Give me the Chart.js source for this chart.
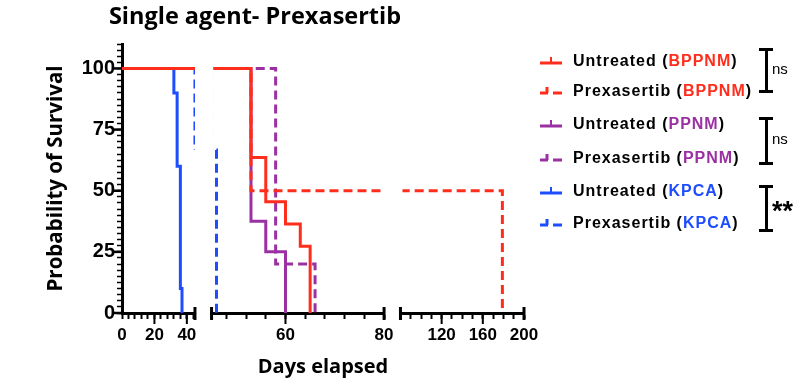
<!DOCTYPE html>
<html>
<head>
<meta charset="utf-8">
<title>Single agent- Prexasertib</title>
<script src="https://cdn.jsdelivr.net/npm/chart.js@4.4.1/dist/chart.umd.min.js"></script>
<style>
  html, body { margin: 0; padding: 0; background: #fff; }
  #wrap { position: relative; width: 796px; height: 381px; overflow: hidden; }
  #survival { position: absolute; left: 0; top: 0; }
  .title {
    position: absolute; left: 0; top: 0; width: 510px; text-align: center;
    font: 700 23.5px/30px 'Open Sans', sans-serif; color: #000; white-space: nowrap;
  }
  .legend-row {
    position: absolute; left: 540px; height: 20px; display: flex; align-items: center;
    font: 700 16px/20px 'Liberation Sans', Arial, sans-serif; letter-spacing: 1px;
    color: #000; white-space: nowrap;
  }
  .legend-row svg { margin-right: 11px; flex: none; }
  .bracket {
    position: absolute; left: 759px; width: 14px; box-sizing: border-box;
    border-top: 3px solid #000; border-bottom: 3px solid #000;
  }
  .bracket::before {
    content: ''; position: absolute; left: 5.5px; top: 0; bottom: 0; width: 3px; background: #000;
  }
  .stat { position: absolute; left: 772px; color: #000; font-family: 'Liberation Sans', Arial, sans-serif; }
  .stat.ns { font-size: 15px; line-height: 20px; }
  .stat.sig { font-size: 27px; font-weight: 700; line-height: 30px; }
</style>
</head>
<body>
<div id="wrap">
  <canvas id="survival" width="796" height="381"></canvas>
  <div class="title">Single agent- Prexasertib</div>
  <div id="legend"></div>
</div>
<script>
// Kaplan-Meier curves: day of each step and survival (%) after it
const untreatedBppnmDays = [0, 53, 56, 60, 63, 65];
const untreatedBppnmSurvival = [100, 63.6, 45.5, 36.4, 27.3, 0];
const prexBppnmDays = [0, 53, 179];
const prexBppnmSurvival = [100, 50, 0];
const untreatedPpnmDays = [0, 53, 56, 60];
const untreatedPpnmSurvival = [100, 37.5, 25, 0];
const prexPpnmDays = [0, 58, 66];
const prexPpnmSurvival = [100, 20, 0];
const untreatedKpcaDays = [0, 32, 34, 36, 37];
const untreatedKpcaSurvival = [100, 90, 60, 10, 0];
const prexKpcaDays = [0, 45, 46];
const prexKpcaSurvival = [100, 66.7, 0];

// broken x axis: three day ranges, tick step and labelled ticks for each
const dayRanges = [[0, 45], [45, 80], [80, 200]];
const daySteps = [4, 4, 10];
const dayLabels = [[0, 20, 40], [60, 80], [120, 160, 200]];
const survivalLabels = [0, 25, 50, 75, 100];

// comparison results shown next to the legend pairs
const comparisons = ['ns', 'ns', '**'];

const RED = '#ff2d1b';
const PURPLE = '#9b30a3';
const BLUE = '#1e4cff';

const series = [
  { treatment: 'Untreated', model: 'BPPNM', color: RED, dashed: false, days: untreatedBppnmDays, survival: untreatedBppnmSurvival },
  { treatment: 'Prexasertib', model: 'BPPNM', color: RED, dashed: true, days: prexBppnmDays, survival: prexBppnmSurvival },
  { treatment: 'Untreated', model: 'PPNM', color: PURPLE, dashed: false, days: untreatedPpnmDays, survival: untreatedPpnmSurvival },
  { treatment: 'Prexasertib', model: 'PPNM', color: PURPLE, dashed: true, days: prexPpnmDays, survival: prexPpnmSurvival },
  { treatment: 'Untreated', model: 'KPCA', color: BLUE, dashed: false, days: untreatedKpcaDays, survival: untreatedKpcaSurvival },
  { treatment: 'Prexasertib', model: 'KPCA', color: BLUE, dashed: true, days: prexKpcaDays, survival: prexKpcaSurvival }
];

const SEGMENT_IDS = ['days1', 'days2', 'days3'];
// pixel share of each piece of the bottom axis stack (segment, gap, segment, gap, segment)
const STACK_WEIGHTS = { days1: 73, gap1: 16.6, days2: 172.6, gap2: 16.4, days3: 123.6 };

Chart.defaults.font.family = "'Liberation Sans', Arial, sans-serif";
Chart.defaults.color = '#000';

// every curve is drawn once per axis segment
const datasets = [];
series.forEach(s => {
  const points = s.days.map((d, i) => ({ x: d, y: s.survival[i] }));
  SEGMENT_IDS.forEach(id => {
    datasets.push({
      label: `${s.treatment} (${s.model})`,
      data: points,
      xAxisID: id,
      yAxisID: 'y',
      stepped: true,
      borderColor: s.color,
      borderWidth: 3,
      borderDash: s.dashed ? [9, 5] : [],
      borderCapStyle: 'butt',
      pointRadius: 0,
      fill: false
    });
  });
});

function noPadding (scale) {
  scale.paddingLeft = 0;
  scale.paddingRight = 0;
  scale.paddingTop = 0;
  scale.paddingBottom = 0;
}

function segmentScale (i) {
  const [min, max] = dayRanges[i];
  return {
    type: 'linear',
    axis: 'x',
    position: 'bottom',
    stack: 'days',
    stackWeight: STACK_WEIGHTS[SEGMENT_IDS[i]],
    min,
    max,
    border: { display: true, color: '#000', width: 3 },
    grid: { display: true, drawOnChartArea: false, drawTicks: true, tickLength: 6, tickWidth: 2, tickColor: '#000' },
    ticks: {
      stepSize: daySteps[i],
      includeBounds: false,
      autoSkip: false,
      maxRotation: 0,
      padding: 6,
      font: { size: 17, weight: 'bold' },
      callback: v => dayLabels[i].includes(v) ? String(v) : ''
    },
    afterFit (scale) {
      scale.height = 40;
      noPadding(scale);
    }
  };
}

function gapScale (weight) {
  return {
    type: 'linear',
    axis: 'x',
    position: 'bottom',
    stack: 'days',
    stackWeight: weight,
    min: 0,
    max: 1,
    border: { display: false },
    grid: { display: false },
    ticks: { display: false },
    afterFit (scale) {
      scale.height = 40;
      noPadding(scale);
    }
  };
}

function strokeLine (ctx, x1, y1, x2, y2) {
  ctx.beginPath();
  ctx.moveTo(x1, y1);
  ctx.lineTo(x2, y2);
  ctx.stroke();
}

// keep each copy of a curve inside its own axis segment
const segmentClip = {
  id: 'segmentClip',
  beforeDatasetDraw (chart, args) {
    const xs = args.meta.xScale;
    const { top, bottom } = chart.chartArea;
    const inner = xs.id === 'days1' ? 0 : 2;
    chart.ctx.save();
    chart.ctx.beginPath();
    chart.ctx.rect(xs.left + inner, top - 10, xs.width - inner + 3, bottom - top + 20);
    chart.ctx.clip();
  },
  afterDatasetDraw (chart) {
    chart.ctx.restore();
  }
};

// segment end caps, long ticks under labels and the shared x title
const axisMarks = {
  id: 'axisMarks',
  afterDraw (chart) {
    const { ctx, chartArea, scales } = chart;
    const base = chartArea.bottom;
    ctx.save();
    ctx.strokeStyle = '#000';
    ctx.lineCap = 'butt';

    SEGMENT_IDS.forEach((id, i) => {
      const s = scales[id];
      ctx.lineWidth = 3;
      const ends = i === 0 ? [s.right] : [s.left, s.right];
      ends.forEach(x => strokeLine(ctx, x, base - 6, x, base + 7));

      ctx.lineWidth = 2;
      dayLabels[i].forEach(v => {
        if (v <= s.min || v >= s.max) return;
        const x = s.getPixelForValue(v);
        strokeLine(ctx, x, base, x, base + 11);
      });
    });

    const y = scales.y;
    ctx.lineWidth = 2.5;
    survivalLabels.forEach(v => {
      const py = y.getPixelForValue(v);
      strokeLine(ctx, y.right - 8, py, y.right, py);
    });

    ctx.fillStyle = '#000';
    ctx.font = "bold 20px 'Open Sans'";
    ctx.textAlign = 'center';
    ctx.textBaseline = 'alphabetic';
    ctx.fillText('Days elapsed', (chartArea.left + chartArea.right) / 2, 373);
    ctx.restore();
  }
};

const scales = {
  y: {
    type: 'linear',
    position: 'left',
    min: 0,
    max: 110,
    border: { display: true, color: '#000', width: 3 },
    grid: { display: true, drawOnChartArea: false, drawTicks: true, tickLength: 5, tickWidth: 1.5, tickColor: '#000' },
    ticks: {
      stepSize: 2.5,
      autoSkip: false,
      padding: 2,
      font: { size: 20, weight: 'bold' },
      callback: v => survivalLabels.includes(v) ? String(v) : ''
    },
    title: {
      display: true,
      text: 'Probability of Survival',
      color: '#000',
      font: { family: "'Open Sans'", size: 20.5, weight: 'bold' },
      padding: { top: 44, bottom: 0 }
    },
    afterFit (scale) {
      scale.width = 122;
      noPadding(scale);
    }
  },
  days1: segmentScale(0),
  gap1: gapScale(STACK_WEIGHTS.gap1),
  days2: segmentScale(1),
  gap2: gapScale(STACK_WEIGHTS.gap2),
  days3: segmentScale(2)
};

new Chart(document.getElementById('survival'), {
  type: 'line',
  data: { datasets },
  options: {
    responsive: false,
    animation: false,
    layout: { padding: { left: 0, top: 44, right: 272, bottom: 28 } },
    plugins: {
      legend: { display: false },
      tooltip: { enabled: false }
    },
    scales
  },
  plugins: [segmentClip, axisMarks]
});

// legend with coloured model names and comparison brackets
const legend = document.getElementById('legend');
const rowCentres = [60.5, 90.5, 124, 157.5, 191, 223];

function markerSvg (color, dashed) {
  const path = dashed
    ? `<path d="M0 9H8M7 3V9M13 9H22" stroke="${color}" stroke-width="3" fill="none"/>`
    : `<path d="M0 9H22" stroke="${color}" stroke-width="3" fill="none"/><path d="M11 3V9" stroke="${color}" stroke-width="2"/>`;
  return `<svg width="22" height="14" viewBox="0 0 22 14">${path}</svg>`;
}

series.forEach((s, i) => {
  const row = document.createElement('div');
  row.className = 'legend-row';
  row.style.top = (rowCentres[i] - 10) + 'px';
  row.innerHTML = markerSvg(s.color, s.dashed) +
    `<span>${s.treatment} (<span style="color:${s.color}">${s.model}</span>)</span>`;
  legend.appendChild(row);
});

const bracketSpans = [[48, 93], [117, 165], [185, 232]];
comparisons.forEach((label, i) => {
  const [top, bottom] = bracketSpans[i];
  const b = document.createElement('div');
  b.className = 'bracket';
  b.style.top = top + 'px';
  b.style.height = (bottom - top) + 'px';
  legend.appendChild(b);

  const t = document.createElement('div');
  const sig = label !== 'ns';
  t.className = 'stat ' + (sig ? 'sig' : 'ns');
  t.textContent = label;
  t.style.top = ((top + bottom) / 2 - (sig ? 13 : 12)) + 'px';
  legend.appendChild(t);
});
</script>
</body>
</html>
